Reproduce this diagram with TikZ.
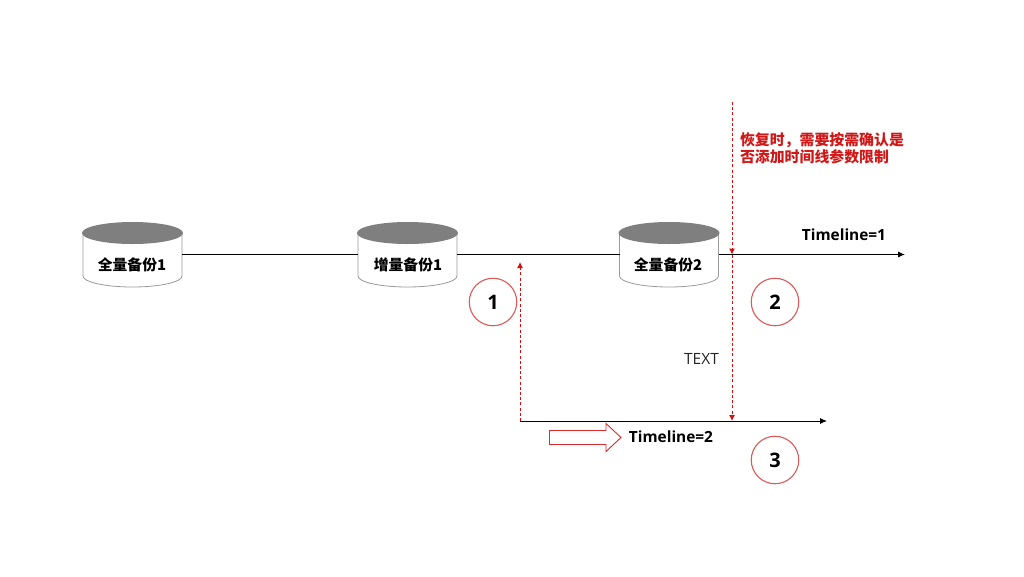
\documentclass[tikz,border=0pt]{standalone}
\usepackage{fontspec}
\setmainfont{Open Sans}
\newfontfamily\cjk{Noto Sans CJK SC}
\usetikzlibrary{arrows.meta}
\definecolor{redline}{HTML}{D80C0C}
\definecolor{ringred}{HTML}{DC5A5A}
\definecolor{blockred}{HTML}{D92B2B}
\definecolor{redtext}{HTML}{D01818}
\definecolor{topgray}{HTML}{7F7F7F}
\definecolor{bodyline}{HTML}{9A9A9A}
\newcommand{\dbdraw}[1]{%
  \filldraw[draw=bodyline,line width=0.8pt,fill=white]
    (#1.north west) ++(0,11) -- ++(0,43)
    arc[start angle=180,end angle=360,x radius=49.5pt,y radius=11pt] -- ++(0,-43) -- cycle;
  \fill[topgray] (#1.north) ++(0,11) ellipse[x radius=50.5pt,y radius=11pt];
}
\tikzset{
  x=1pt,y=-1pt,
  every node/.style={inner sep=0pt,outer sep=0pt},
  db/.style={minimum width=99pt,minimum height=65pt},
  dblabel/.style={font=\cjk\bfseries\fontsize{14.8}{16}\selectfont,text=black},
  timeline/.style={draw=black,line width=0.9pt,-{Latex[length=7pt,width=6pt]}},
  plainline/.style={draw=black,line width=0.9pt},
  reddash/.style={draw=redline,line width=1pt,dash pattern=on 3pt off 2.2pt},
  redtip/.style={-{Latex[length=6pt,width=6pt]}},
  ring/.style={circle,draw=ringred,line width=1.1pt,minimum size=47.5pt,font=\bfseries\fontsize{20}{22}\selectfont,text=black},
  tlabel/.style={font=\bfseries\fontsize{15.4}{17}\selectfont,text=black},
}
\begin{document}
\begin{tikzpicture}
\useasboundingbox (0,0) rectangle (1024,576);
\fill[white] (0,0) rectangle (1024,576);
\node[db] (a) at (132.5,254.5) {};
\node[db] (b) at (407.5,254.5) {};
\node[db] (c) at (669,254.5) {};
\dbdraw{a}\dbdraw{b}\dbdraw{c}
\node[dblabel] (la) at (132,265) {全量备份1};
\node[dblabel] (lb) at (408,265) {增量备份1};
\node[dblabel] (lc) at (668,265) {全量备份2};
\coordinate (end1) at (905,254.5);
\coordinate (start2) at (520,421);
\coordinate (end2) at (827,421);
\coordinate (branch) at (520,262);
\coordinate (dashtop) at (732,102);
\coordinate (hit1) at (732,254.5);
\coordinate (hit2) at (732,421);
\draw[plainline] (a.east) -- (b.west);
\draw[plainline] (b.east) -- (c.west);
\draw[timeline] (c.east) -- (end1);
\draw[timeline] (start2) -- (end2);
\draw[reddash,redtip] (start2) -- (branch);
\draw[reddash,redtip] (dashtop) -- (hit1);
\draw[reddash,redtip] (hit1) -- (hit2);
\node[ring] (n1) at (493,302) {1};
\node[ring] (n2) at (775,302) {2};
\node[ring] (n3) at (775,460) {3};
\node[tlabel] (t1) at (844,234.5) {Timeline=1};
\node[tlabel] (t2) at (671,437) {Timeline=2};
\draw[draw=blockred,fill=white,line width=0.9pt] (549.5,430.5) -- (606,430.5) -- (606,423.5) -- (621,437.5) -- (606,451.5) -- (606,444.5) -- (549.5,444.5) -- cycle;
\node[font=\fontsize{15.5}{17}\selectfont,text=black!85] (txt) at (701.5,359) {TEXT};
\node[font=\cjk\bfseries\fontsize{14.9}{17}\selectfont,text=redtext,align=left,anchor=north west] (note) at (740,132.5) {恢复时\char"FF0C 需要按需确认是\\否添加时间线参数限制};
\end{tikzpicture}
\end{document}
